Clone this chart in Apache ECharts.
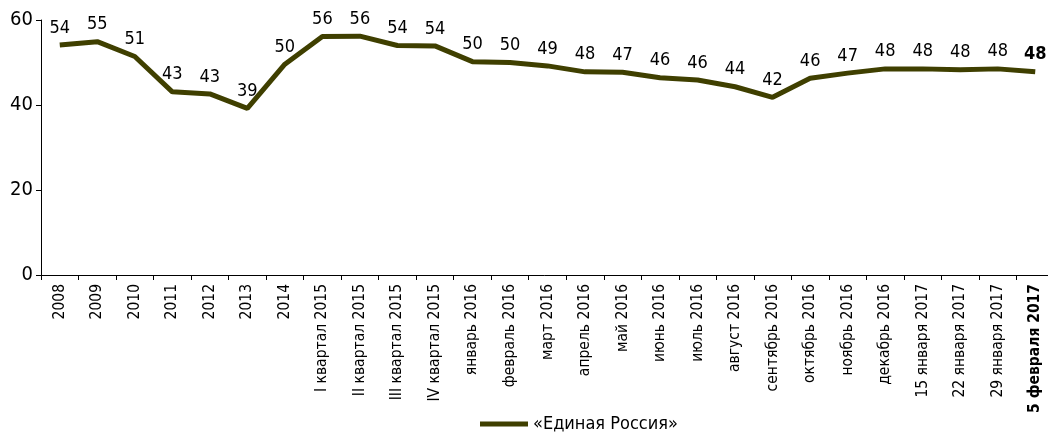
<!DOCTYPE html>
<html>
<head>
<meta charset="utf-8">
<script src="https://cdn.jsdelivr.net/npm/echarts@6/dist/echarts.min.js"></script>
<style>
  html, body { margin: 0; padding: 0; background: #fff; }
  #chart { width: 1048px; height: 433px; }
</style>
</head>
<body>
<div id="chart"></div>
<script>
const categories = ['2008', '2009', '2010', '2011', '2012', '2013', '2014',
  'I квартал 2015', 'II квартал 2015', 'III квартал 2015', 'IV квартал 2015',
  'январь 2016', 'февраль 2016', 'март 2016', 'апрель 2016', 'май 2016', 'июнь 2016',
  'июль 2016', 'август 2016', 'сентябрь 2016', 'октябрь 2016', 'ноябрь 2016', 'декабрь 2016',
  '15 января 2017', '22 января 2017', '29 января 2017', '5 февраля 2017'];
// line position
const values = [54.1, 54.9, 51.4, 43.1, 42.6, 39.2, 49.6, 56.1, 56.2, 54.0, 53.9,
  50.2, 50.0, 49.2, 47.8, 47.7, 46.4, 45.9, 44.3, 41.8, 46.3, 47.5, 48.5,
  48.5, 48.3, 48.5, 47.8];
// numbers printed above the points
const pointLabels = [54, 55, 51, 43, 43, 39, 50, 56, 56, 54, 54, 50, 50, 49, 48, 47, 46,
  46, 44, 42, 46, 47, 48, 48, 48, 48, 48];
const yTicks = [0, 20, 40, 60];

const font = '"DejaVu Sans Condensed", "Liberation Sans Narrow", sans-serif';
const lineColor = '#3f3f00';
const last = categories.length - 1;

const chart = echarts.init(document.getElementById('chart'));
chart.setOption({
  animation: false,
  textStyle: { fontFamily: font },
  grid: { left: 41, width: 1013, top: 20, bottom: 158, containLabel: false, outerBoundsMode: 'none' },
  legend: {
    data: ['«Единая Россия»'],
    left: 475,
    top: 410,
    itemWidth: 48,
    itemHeight: 5,
    itemGap: 9,
    icon: 'rect',
    itemStyle: { color: lineColor },
    textStyle: { fontFamily: font, fontSize: 18, color: '#000' }
  },
  xAxis: {
    type: 'category',
    data: categories,
    boundaryGap: true,
    axisLine: { lineStyle: { color: '#000', width: 1 } },
    axisTick: { show: true, length: 5, lineStyle: { color: '#000' } },
    axisLabel: {
      interval: 0,
      rotate: 90,
      margin: 9,
      fontFamily: font,
      fontSize: 15.5,
      color: '#000',
      formatter: function (v, i) { return i === last ? '{b|' + v + '}' : v; },
      rich: { b: { fontWeight: 'bold', fontFamily: font, fontSize: 15.5, color: '#000' } }
    }
  },
  yAxis: {
    type: 'value',
    min: yTicks[0],
    max: yTicks[yTicks.length - 1],
    interval: 20,
    axisLine: { show: true, lineStyle: { color: '#000', width: 1 } },
    axisTick: { show: true, length: 5, lineStyle: { color: '#000' } },
    splitLine: { show: false },
    axisLabel: { fontFamily: font, fontSize: 20, color: '#000', margin: 8 }
  },
  series: [{
    name: '«Единая Россия»',
    type: 'line',
    data: values,
    symbol: 'circle',
    symbolSize: 0.1,
    showSymbol: true,
    showAllSymbol: true,
    itemStyle: { color: lineColor },
    color: lineColor,
    lineStyle: { color: lineColor, width: 5 },
    label: {
      show: true,
      position: 'top',
      distance: 8,
      fontFamily: font,
      fontSize: 18,
      color: '#000',
      formatter: function (p) {
        return p.dataIndex === last ? '{b|' + pointLabels[p.dataIndex] + '}' : String(pointLabels[p.dataIndex]);
      },
      rich: { b: { fontWeight: 'bold', fontFamily: font, fontSize: 18, color: '#000' } }
    },
    labelLayout: { hideOverlap: false }
  }]
});
</script>
</body>
</html>
